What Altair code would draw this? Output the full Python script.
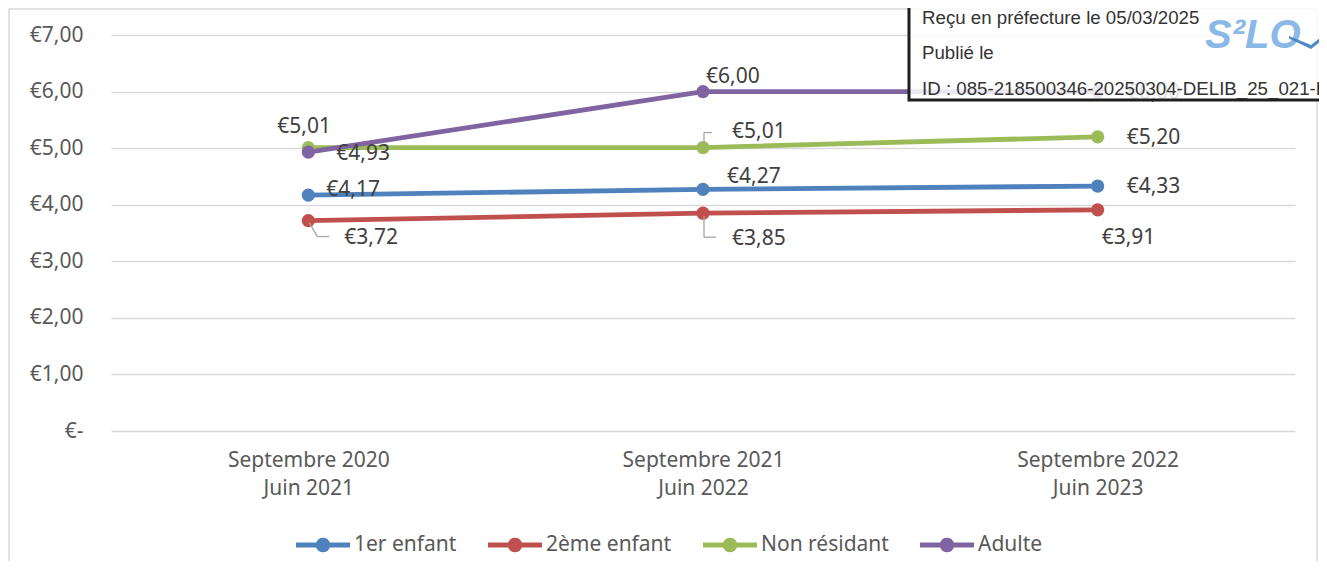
import json
import math
import altair as alt
import pandas as pd

# ---------------- data ----------------
periods = [["Septembre 2020", "Juin 2021"],
           ["Septembre 2021", "Juin 2022"],
           ["Septembre 2022", "Juin 2023"]]
series = ["1er enfant", "2ème enfant", "Non résidant", "Adulte"]
colors = ["#4F81BD", "#C0504D", "#9BBB59", "#8064A2"]
v_1er = [4.17, 4.27, 4.33]
v_2eme = [3.72, 3.85, 3.91]
v_non = [5.01, 5.01, 5.20]
v_adulte = [4.93, 6.00, 6.00]
y_ticks = [0, 1, 2, 3, 4, 5, 6, 7]
stamp_lines = ["Reçu en préfecture le 05/03/2025",
               "Publié le",
               "ID : 085-218500346-20250304-DELIB_25_021-B"]
logo_text = "S²LO"

values = [v_1er, v_2eme, v_non, v_adulte]

# ---------------- styles ----------------
FONT = "Noto Sans"
AXIS_GRAY = "#595959"
LABEL_GRAY = "#404040"

# pixel offsets (dx to label left edge, dy to label centre) per data label
LABEL_OFFSETS = {
    ("1er enfant", 0): (18, -5), ("1er enfant", 1): (24, -12), ("1er enfant", 2): (29, 1),
    ("2ème enfant", 0): (36, 17), ("2ème enfant", 1): (29, 26), ("2ème enfant", 2): (4, 28),
    ("Non résidant", 0): (-31, -21), ("Non résidant", 1): (29, -16), ("Non résidant", 2): (29, 1),
    ("Adulte", 0): (28, 2), ("Adulte", 1): (3, -15), ("Adulte", 2): (29, 1),
}
# leader line segments in pixel offsets from the point
LEADERS = {
    ("2ème enfant", 0): [(1, 2, 9, 16), (9, 16, 21, 16)],
    ("2ème enfant", 1): [(1, 3, 1, 24), (1, 24, 13, 24)],
    ("Non résidant", 1): [(1, -3, 1, -15), (1, -15, 9, -15)],
}

rows = []
for s, vals in zip(series, values):
    for i, v in enumerate(vals):
        rows.append({"series": s, "idx": i, "value": v,
                     "label": "€" + f"{v:.2f}".replace(".", ",")})
df = pd.DataFrame(rows)

x_expr = json.dumps(periods, ensure_ascii=False) + "[datum.value]"
y_expr = ("datum.value == 0 ? '€-\u00a0\u00a0' : "
          "'€' + replace(format(datum.value, '.2f'), '.', ',')")

X = alt.X("idx:Q", title=None,
          scale=alt.Scale(domain=[-0.5, 2.5], nice=False, zero=False),
          axis=alt.Axis(values=[0, 1, 2], labelExpr=x_expr, grid=False, ticks=False,
                        domain=False, labelPadding=18, labelLineHeight=28,
                        labelFontSize=21, labelFont=FONT, labelColor=AXIS_GRAY,
                        labelAngle=0, title=None))
Y = alt.Y("value:Q", title=None,
          scale=alt.Scale(domain=[0, 7], nice=False, zero=True),
          axis=alt.Axis(values=y_ticks, labelExpr=y_expr, grid=True, gridColor="#D9D9D9",
                        gridWidth=1.5, ticks=False, domain=False, labelPadding=28,
                        labelFontSize=21, labelFont=FONT, labelColor=AXIS_GRAY, title=None))

color_scale = alt.Scale(domain=series, range=colors)

# legend symbol: a bar with a dot in the middle (polygon circle, clockwise)
_r = 0.27
_circ = " ".join(
    ("M" if k == 0 else "L") + f"{_r * math.cos(2 * math.pi * k / 20):.3f},{_r * math.sin(2 * math.pi * k / 20):.3f}"
    for k in range(20)) + "Z"
LEGEND_PATH = "M-1,-0.09L1,-0.09L1,0.09L-1,0.09Z " + _circ

layers = []
# one line layer per series (constant colour, so the only colour legend is the points')
for s, c in zip(series, colors):
    layers.append(
        alt.Chart(df[df.series == s]).mark_line(strokeWidth=4.8, color=c).encode(x=X, y=Y)
    )

points = alt.Chart(df).mark_circle(size=175, opacity=1).encode(
    x=X, y=Y,
    color=alt.Color("series:N", scale=color_scale, sort=series,
                    legend=alt.Legend(title=None, orient="none", legendX=185, legendY=483,
                                      direction="horizontal", symbolType=LEGEND_PATH,
                                      symbolSize=2916, symbolStrokeWidth=0,
                                      labelFontSize=21, labelFont=FONT,
                                      labelColor=AXIS_GRAY, labelOffset=4,
                                      columnPadding=31, labelLimit=300)),
)
layers.append(points)

# leader lines
for key, segs in LEADERS.items():
    sub = df[(df.series == key[0]) & (df.idx == key[1])]
    for (x1, y1, x2, y2) in segs:
        layers.append(
            alt.Chart(sub).mark_rule(color="#A6A6A6", strokeWidth=1.3,
                                     xOffset=x1, yOffset=y1, x2Offset=x2, y2Offset=y2)
            .encode(x=X, x2=alt.X2("idx:Q"), y=Y, y2=alt.Y2("value:Q"))
        )

# data labels
for key, (dx, dy) in LABEL_OFFSETS.items():
    sub = df[(df.series == key[0]) & (df.idx == key[1])]
    layers.append(
        alt.Chart(sub).mark_text(align="left", baseline="middle", dx=dx, dy=dy,
                                 font=FONT, fontSize=21, color=LABEL_GRAY)
        .encode(x=X, y=Y, text="label:N")
    )

one = pd.DataFrame({"k": [0]})

# outer chart border
layers.append(
    alt.Chart(one).mark_rect(fillOpacity=0, fill="white", stroke="#D9D9D9", strokeWidth=1.5)
    .encode(x=alt.value(-102), x2=alt.value(1206), y=alt.value(-26), y2=alt.value(528))
)

# stamp box
layers.append(
    alt.Chart(one).mark_rect(fill="white", fillOpacity=0.85, stroke="#1E1E1E", strokeWidth=3)
    .encode(x=alt.value(798), x2=alt.value(1214), y=alt.value(-32), y2=alt.value(65))
)
for line, yy in zip(stamp_lines, [-17, 18, 54]):
    layers.append(
        alt.Chart(one).mark_text(align="left", baseline="middle", font="Liberation Sans",
                                 fontSize=18.7, color="#333333")
        .encode(x=alt.value(811), y=alt.value(yy), text=alt.value(line))
    )
layers.append(
    alt.Chart(one).mark_text(align="left", baseline="middle", font="Liberation Sans",
                             fontStyle="italic", fontWeight="bold", fontSize=40,
                             color="#7FB2E5", opacity=0.9)
    .encode(x=alt.value(1094), y=alt.value(1), text=alt.value(logo_text))
)
SWOOSH = "M-1,-0.15L0.1,0.3L1,-0.4L1,-0.2L0.1,0.5L-1,-0.02Z"
layers.append(
    alt.Chart(one).mark_point(shape=SWOOSH, filled=True, size=1600, color="#3D7EBF",
                              opacity=0.9, strokeWidth=0)
    .encode(x=alt.value(1198), y=alt.value(4))
)

chart = alt.layer(*layers).properties(
    width=1184, height=396,
    autosize=alt.AutoSizeParams(type="none"),
    padding={"left": 103, "top": 27, "right": 24, "bottom": 130},
    background="white",
).configure_view(stroke=None)

chart.save("out.html", embed_options={"renderer": "svg", "actions": False})
